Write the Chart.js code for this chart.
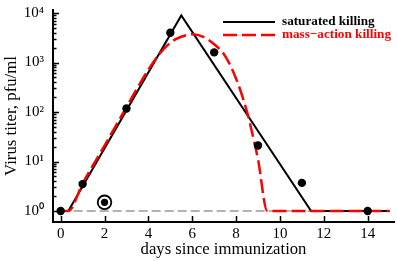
<!DOCTYPE html>
<html>
<head>
<meta charset="utf-8">
<script src="https://cdn.jsdelivr.net/npm/chart.js@4.4.0/dist/chart.umd.min.js"></script>
<style>
  html, body { margin: 0; padding: 0; background: #fff; }
  #wrap { width: 397px; height: 261px; position: relative; }
</style>
</head>
<body>
<div id="wrap"><canvas id="chart"></canvas></div>
<script>
// measured titers (pfu/ml)
const dataDays = [0, 1, 3, 5, 7, 9, 11, 14];
const dataTiters = [1, 3.5, 118, 4000, 1600, 21, 3.7, 1];

// the ringed point on day 2
const ringDays = [2];
const ringTiters = [1.5];

// saturated killing model
const satDays = [0, 0.35, 5.5, 11.42, 15];
const satTiters = [1, 1, 8900, 1, 1];

// mass-action killing model
const massDays = [0, 0.35, 1, 2, 3, 4, 4.5, 5, 5.5, 6, 6.5, 7, 7.5, 8, 8.5, 8.75, 9, 9.42, 15];
const massTiters = [1, 1, 3.6, 21, 126, 720, 1480, 2510, 3310, 3720, 3310, 2340, 1350, 470, 100, 35, 11, 1, 1];

// detection limit
const limitDays = [0, 15];
const limitTiters = [1, 1];

const xTicks = [0, 2, 4, 6, 8, 10, 12, 14];
const yMajorTicks = [1, 10, 100, 1000, 10000];
const yTickLabels = ["10⁰", "10¹", "10²", "10³", "10⁴"];

const serif = "'Liberation Serif', 'Times New Roman', serif";

function pts(xs, ys) {
  return xs.map((x, i) => ({ x: x, y: ys[i] }));
}

// minor ticks 2..9 in each decade
const yAllTicks = [];
yMajorTicks.forEach(m => {
  yAllTicks.push(m);
  if (m < 10000) for (let k = 2; k <= 9; k++) yAllTicks.push(m * k);
});

// ticks drawn inward from the axis lines
const innerTicks = {
  id: "innerTicks",
  afterDraw(chart) {
    const ctx = chart.ctx;
    const area = chart.chartArea;
    const xs = chart.scales.x, ys = chart.scales.y;
    ctx.save();
    ctx.strokeStyle = "#000";
    ctx.lineWidth = 1.5;
    ctx.beginPath();
    xs.ticks.forEach(t => {
      const px = Math.round(xs.getPixelForValue(t.value)) + 0.5;
      ctx.moveTo(px, area.bottom);
      ctx.lineTo(px, area.bottom - 6);
    });
    ys.ticks.forEach(t => {
      const py = Math.round(ys.getPixelForValue(t.value)) + 0.5;
      const len = yMajorTicks.includes(t.value) ? 6 : 3.5;
      ctx.moveTo(area.left, py);
      ctx.lineTo(area.left + len, py);
    });
    ctx.stroke();
    ctx.restore();
  }
};

// legend in the upper right corner
const cornerLegend = {
  id: "cornerLegend",
  afterDraw(chart) {
    const ctx = chart.ctx;
    const area = chart.chartArea;
    const items = chart.data.datasets.filter(d => d.inLegend)
      .sort((a, b) => a.inLegend - b.inLegend);
    ctx.save();
    ctx.font = "bold 13.2px " + serif;
    ctx.textBaseline = "middle";
    items.forEach((d, i) => {
      const y = 22 + i * 13;
      const x0 = area.right - 171;
      ctx.strokeStyle = d.borderColor;
      ctx.lineWidth = d.borderWidth;
      ctx.setLineDash(d.borderDash || []);
      ctx.beginPath();
      ctx.moveTo(x0, y);
      ctx.lineTo(x0 + 52, y);
      ctx.stroke();
      ctx.fillStyle = d.borderColor;
      ctx.fillText(d.label, x0 + 59, y);
    });
    ctx.restore();
  }
};

const ctx = document.getElementById("chart").getContext("2d");
new Chart(ctx, {
  type: "scatter",
  data: {
    datasets: [
      {
        label: "data",
        data: pts(dataDays, dataTiters),
        backgroundColor: "#000",
        borderColor: "#000",
        pointRadius: 4.2,
        pointBorderWidth: 0
      },
      {
        label: "ring dot",
        data: pts(ringDays, ringTiters),
        backgroundColor: "#000",
        pointRadius: 3.6,
        pointBorderWidth: 0
      },
      {
        label: "ring",
        data: pts(ringDays, ringTiters),
        backgroundColor: "#fff",
        borderColor: "#000",
        pointRadius: 6.8,
        pointBorderWidth: 1.8
      },
      {
        label: "mass−action killing",
        inLegend: 2,
        data: pts(massDays, massTiters),
        showLine: true,
        borderColor: "#ff0000",
        borderWidth: 2.5,
        borderDash: [14, 5],
        cubicInterpolationMode: "monotone",
        pointRadius: 0
      },
      {
        label: "saturated killing",
        inLegend: 1,
        data: pts(satDays, satTiters),
        showLine: true,
        borderColor: "#000",
        borderWidth: 2,
        pointRadius: 0
      },
      {
        label: "limit",
        data: pts(limitDays, limitTiters),
        showLine: true,
        borderColor: "#999",
        borderWidth: 1.5,
        borderDash: [9, 4],
        pointRadius: 0
      }
    ]
  },
  options: {
    responsive: true,
    maintainAspectRatio: false,
    animation: false,
    layout: { autoPadding: false, padding: { top: 10, right: 3, left: 0, bottom: 0 } },
    plugins: {
      legend: { display: false },
      tooltip: { enabled: false }
    },
    scales: {
      x: {
        type: "linear",
        min: -0.35,
        max: 15.2,
        afterBuildTicks: scale => { scale.ticks = xTicks.map(v => ({ value: v })); },
        afterFit: scale => {
          scale.height = 39;
          scale.paddingLeft = 0;
          scale.paddingRight = 0;
        },
        grid: { display: false, drawTicks: false },
        border: { color: "#000", width: 2 },
        ticks: {
          color: "#000",
          padding: 3,
          font: { family: serif, size: 15 }
        },
        title: {
          display: true,
          text: "days since immunization",
          color: "#000",
          padding: { top: 0, bottom: 1 },
          font: { family: serif, size: 16.7 }
        }
      },
      y: {
        type: "logarithmic",
        min: 0.6,
        max: 11500,
        afterBuildTicks: scale => { scale.ticks = yAllTicks.map(v => ({ value: v })); },
        afterFit: scale => {
          scale.width = 53;
          scale.paddingTop = 0;
          scale.paddingBottom = 0;
        },
        grid: { display: false, drawTicks: false },
        border: { color: "#000", width: 2 },
        ticks: {
          color: "#000",
          padding: 9,
          autoSkip: false,
          font: { family: serif, size: 15 },
          callback: v => {
            const i = yMajorTicks.indexOf(v);
            return i >= 0 ? yTickLabels[i] : "";
          }
        },
        title: {
          display: true,
          text: "Virus titer, pfu/ml",
          color: "#000",
          padding: { top: 2, bottom: 0 },
          font: { family: serif, size: 16.8 }
        }
      }
    }
  },
  plugins: [innerTicks, cornerLegend]
});
</script>
</body>
</html>
